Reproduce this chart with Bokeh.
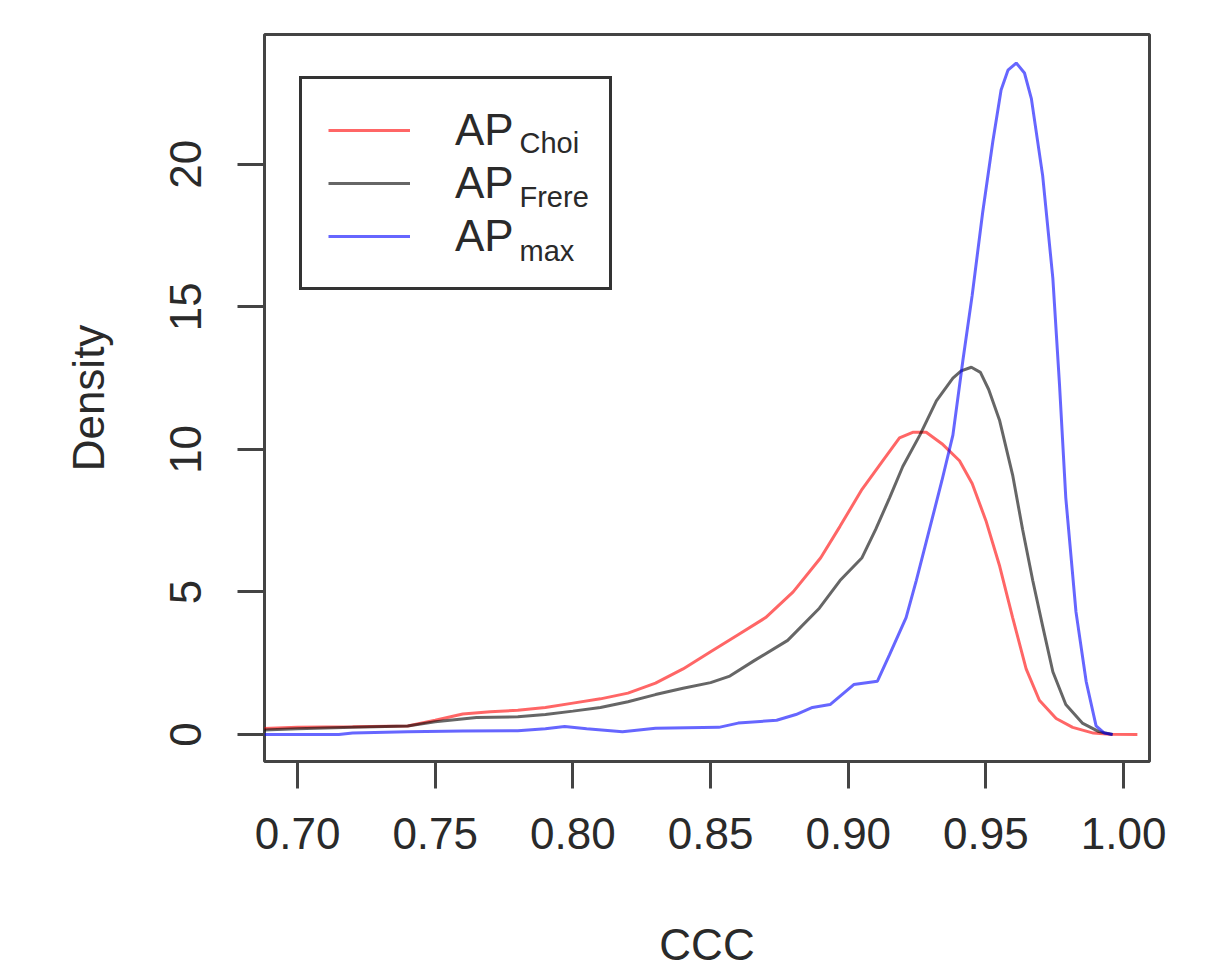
from bokeh.plotting import figure
from bokeh.models import (Range1d, FixedTicker, Legend, LegendItem, Label,
                          CustomJSTickFormatter)
from bokeh.embed import file_html
from bokeh.resources import INLINE

# ---- data ----
choi_x = [0.685, 0.70, 0.72, 0.74, 0.75, 0.76, 0.77, 0.78, 0.79, 0.80, 0.81, 0.82,
          0.83, 0.84, 0.85, 0.86, 0.87, 0.88, 0.89, 0.897, 0.905, 0.9125, 0.9186,
          0.9234, 0.9283, 0.934, 0.9404, 0.945, 0.950, 0.955, 0.9597, 0.9646,
          0.9694, 0.9755, 0.9815, 0.989, 0.995, 1.005]
choi_y = [0.2, 0.25, 0.27, 0.3, 0.5, 0.72, 0.8, 0.85, 0.95, 1.1, 1.25, 1.45,
          1.8, 2.3, 2.9, 3.5, 4.1, 5.0, 6.2, 7.3, 8.6, 9.6, 10.4,
          10.6, 10.6, 10.2, 9.6, 8.8, 7.5, 5.9, 4.1, 2.3,
          1.2, 0.56, 0.25, 0.05, 0.01, 0.0]

frere_x = [0.685, 0.70, 0.72, 0.74, 0.75, 0.765, 0.78, 0.79, 0.80, 0.81, 0.82,
           0.83, 0.84, 0.85, 0.857, 0.866, 0.878, 0.8895, 0.897, 0.905, 0.910,
           0.915, 0.9198, 0.926, 0.932, 0.938, 0.941, 0.9447, 0.948, 0.951,
           0.955, 0.9597, 0.9633, 0.967, 0.9706, 0.9743, 0.979, 0.985, 0.991, 0.996]
frere_y = [0.15, 0.2, 0.25, 0.3, 0.45, 0.6, 0.62, 0.7, 0.82, 0.95, 1.15,
           1.4, 1.62, 1.82, 2.05, 2.6, 3.3, 4.43, 5.4, 6.2, 7.2,
           8.3, 9.4, 10.5, 11.7, 12.5, 12.75, 12.88, 12.7, 12.1,
           11.0, 9.1, 7.2, 5.4, 3.8, 2.2, 1.05, 0.4, 0.1, 0.0]

max_x = [0.685, 0.70, 0.715, 0.72, 0.74, 0.76, 0.78, 0.79, 0.797, 0.805, 0.818,
         0.83, 0.853, 0.86, 0.874, 0.881, 0.887, 0.8934, 0.902, 0.9106, 0.915,
         0.921, 0.9247, 0.9295, 0.934, 0.938, 0.9416, 0.945, 0.9488, 0.9525,
         0.9555, 0.958, 0.961, 0.964, 0.9665, 0.9706, 0.9743, 0.9767, 0.979,
         0.9827, 0.9864, 0.990, 0.993, 0.996]
max_y = [0.0, 0.0, 0.0, 0.05, 0.1, 0.12, 0.13, 0.2, 0.28, 0.2, 0.1,
         0.22, 0.25, 0.4, 0.5, 0.7, 0.95, 1.05, 1.75, 1.87, 2.8,
         4.1, 5.4, 7.2, 8.9, 10.5, 13.1, 15.4, 18.3, 20.8,
         22.6, 23.3, 23.55, 23.2, 22.3, 19.6, 16.0, 12.3, 8.3,
         4.3, 1.86, 0.3, 0.05, 0.0]

x_ticks = [0.70, 0.75, 0.80, 0.85, 0.90, 0.95, 1.00]
y_ticks = [0, 5, 10, 15, 20]
series_names = ["Choi", "Frere", "max"]

FONT = "Liberation Sans"
TXT = "#2a2a2a"
AX = "#444444"
FS = "44px"

p = figure(width=1198, height=971, output_backend="svg", toolbar_location=None,
           x_range=Range1d(0.688, 1.0094), y_range=Range1d(-0.947, 24.55),
           min_border_left=264, min_border_right=49, min_border_top=34,
           min_border_bottom=210)
p.background_fill_color = "white"
p.border_fill_color = "white"
p.grid.visible = False
p.outline_line_color = AX
p.outline_line_width = 3

r_choi = p.line(choi_x, choi_y, line_color="red", line_alpha=0.6, line_width=3)
r_frere = p.line(frere_x, frere_y, line_color="black", line_alpha=0.6, line_width=3)
r_max = p.line(max_x, max_y, line_color="blue", line_alpha=0.6, line_width=3)

for ax in (p.xaxis[0], p.yaxis[0]):
    ax.axis_line_color = None
    ax.major_tick_out = 27
    ax.major_tick_in = 0
    ax.major_tick_line_color = AX
    ax.major_tick_line_width = 3
    ax.minor_tick_line_color = None
    ax.major_label_text_font = FONT
    ax.major_label_text_font_size = FS
    ax.major_label_text_color = TXT
    ax.axis_label_text_font = FONT
    ax.axis_label_text_font_size = FS
    ax.axis_label_text_font_style = "normal"
    ax.axis_label_text_color = TXT

p.xaxis.ticker = FixedTicker(ticks=x_ticks)
p.xaxis.formatter = CustomJSTickFormatter(code="return tick.toFixed(2);")
p.xaxis.major_label_standoff = 29
p.xaxis.axis_label = "CCC"
p.xaxis.axis_label_standoff = 68

p.yaxis.ticker = FixedTicker(ticks=y_ticks)
p.yaxis.major_label_orientation = "vertical"
p.yaxis.major_label_standoff = 36
p.yaxis.axis_label = "Density"
p.yaxis.axis_label_standoff = 55

legend = Legend(items=[LegendItem(label="AP", renderers=[r]) for r in (r_choi, r_frere, r_max)],
                location=(35, 471), orientation="vertical")
legend.label_text_font = FONT
legend.label_text_font_size = FS
legend.label_text_color = TXT
legend.padding = 26
legend.spacing = 3
legend.glyph_width = 82
legend.label_standoff = 45
legend.label_width = 128
legend.border_line_color = "#333333"
legend.border_line_alpha = 1.0
legend.border_line_width = 3
legend.background_fill_alpha = 0.0
legend.margin = 0
p.add_layout(legend)

sub_y = [619, 565, 511]
for name, yy in zip(series_names, sub_y):
    p.add_layout(Label(x=255, y=yy, x_units="screen", y_units="screen", text=name,
                       text_font=FONT, text_font_size="29px", level="overlay",
                       text_color=TXT, text_baseline="alphabetic"))

open("out.html", "w").write(file_html(p, INLINE))
